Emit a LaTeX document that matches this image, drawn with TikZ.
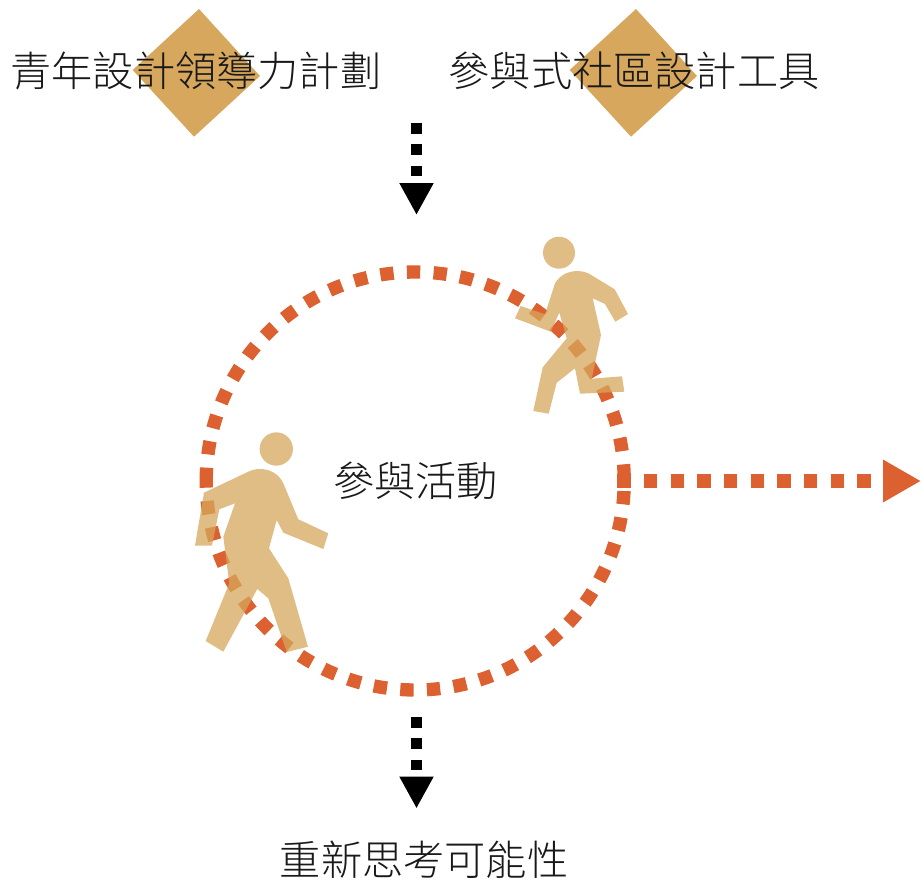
\documentclass[tikz,border=0pt]{standalone}
\usepackage{fontspec}
\setmainfont{Noto Sans CJK TC}[UprightFont={* Light}]
\usepackage{xcolor}
\definecolor{SandGold}{HTML}{D6A75C}
\definecolor{RustRed}{HTML}{DC6030}
\usepackage{tikz}
\usetikzlibrary{arrows.meta, positioning}
\tikzset{
  % Text styles
  titlenode/.style={inner sep=0pt, font=\fontsize{30.9pt}{36pt}\selectfont, text=black!90},
  hubnode/.style={titlenode, circle, minimum size=313.5pt},
  % Shape styles
  diamondfill/.style={fill=SandGold},
  runnerfill/.style={fill=SandGold, fill opacity=0.75},
  % Line styles
  ringline/.style={RustRed, line width=10pt, dash pattern=on 10pt off 10pt},
  % Arrow styles
  blackarrow/.style={-{Triangle[length=24pt, width=24pt]}, black, line width=8pt, dash pattern=on 8pt off 8pt},
  rustarrow/.style={-{Triangle[length=28.5pt, width=30pt]}, RustRed, line width=10pt, dash pattern=on 10pt off 10pt}
}

\begin{document}
\begin{tikzpicture}[x=0.75pt, y=-0.75pt]
  \useasboundingbox (0,0) rectangle (921,882);

  % Diamonds behind the two titles
  \fill[diamondfill] (199,9) -- (260,76) -- (194,136.7) -- (132.7,70) -- cycle;
  \fill[diamondfill] (636,9) -- (697,76) -- (631,136.7) -- (569.7,70) -- cycle;

  \node[titlenode] (plan) at (196,71) {青年設計領導力計劃};
  \node[titlenode] (tool) at (634,71) {參與式社區設計工具};
  \node[hubnode] (hub) at (415.5,481) {參與活動};
  \node[titlenode] (rethink) at (424,860) {重新思考可能性};

  \coordinate (inTop) at (416.5,123);
  \coordinate (inEnd) at (416.5,215);
  \coordinate (outTop) at (416.5,717);
  \coordinate (outEnd) at (416.5,808.5);
  \coordinate (sideEnd) at (921,481);

  \draw[ringline] (hub.west) arc[start angle=180, delta angle=-360, radius=156.75pt];

  \draw[blackarrow] (inTop) -- (inEnd);
  \draw[blackarrow] (outTop) -- (outEnd);
  \draw[rustarrow] ([xshift=-5.5pt]hub.east) -- (sideEnd);

  % Runner, upper right
  \fill[runnerfill] (559,252.7) circle[radius=12pt];
  \fill[runnerfill] (578.3,271) .. controls (568,271) and (560,275) .. (555,283.3) -- (545,314.3) -- (520.7,306) -- (515,318.3) -- (550.7,331.7) -- (559.3,312.7) -- (566.7,338.3) -- (542.7,367.3) -- (533.3,411) -- (548.7,413.7) -- (556.7,382.7) -- (575,368.3) -- (580,393.7) -- (624.3,391.7) -- (622,376.3) -- (591.7,378.7) -- (601,335) -- (592.7,298.3) -- (605,304) -- (615.3,321.7) -- (628,314) -- (614.7,289.3) -- (588.3,273.3) .. controls (585,272) and (582,271) .. (578.3,271) -- cycle;

  % Runner, lower left
  \fill[runnerfill] (276.3,449) circle[radius=12.5pt];
  \fill[runnerfill] (260,469) .. controls (256,469) and (252,470) .. (248.3,471.7) -- (204,492.7) -- (195,545.7) -- (212,545.7) -- (219.3,509.3) -- (235,503.3) -- (223.3,536.7) -- (229.3,583.3) -- (205.7,641) -- (223.3,651.7) -- (257.3,589) -- (268.3,598.3) -- (286.7,652) -- (308,646.7) -- (288.3,578.3) -- (269,548.3) -- (276.7,520) -- (283.3,532.7) -- (323.3,549) -- (328.3,533.3) -- (298.3,519.3) -- (283.3,483.3) .. controls (279,474) and (270,469) .. (260,469) -- cycle;
\end{tikzpicture}
\end{document}
